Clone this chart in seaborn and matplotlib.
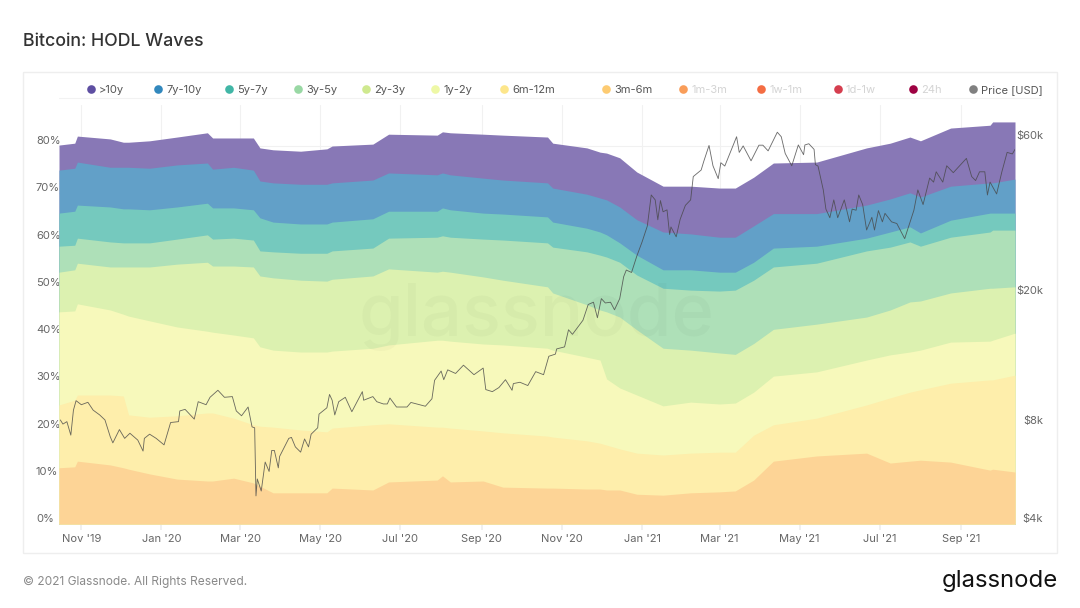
import pandas as pd
import matplotlib
matplotlib.use('Agg')
import matplotlib.pyplot as plt
import matplotlib.dates as mdates
from matplotlib.lines import Line2D
from matplotlib.patches import Rectangle
import seaborn as sns

START = pd.Timestamp('2019-10-15')
END_DAY = 728

# days after START at which the wave boundaries were read
band_days = [0, 12, 14, 39, 49, 53, 69, 90, 113, 117, 133, 148, 153, 163, 184, 204, 208, 239, 251, 288, 292, 298, 323,
             338, 372, 376, 402, 412, 417, 427, 440, 460, 481, 503, 515, 529, 544, 577, 615, 633, 648, 656, 679, 709, 711, 728]

# upper edge of each stacked wave, in percent of supply
top_over10y = [80.2, 80.6, 82.1, 81.5, 80.8, 80.8, 81.1, 81.9, 82.8, 81.7, 81.7, 81.7, 79.6, 79.2, 78.9, 79.4, 80.0, 80.4, 82.5, 82.3, 83.0, 82.8, 82.5,
               82.3, 81.9, 80.6, 79.6, 78.7, 78.5, 77.5, 74.5, 71.5, 71.5, 71.1, 71.1, 73.4, 76.4, 76.6, 79.6, 80.6, 81.9, 81.1, 83.8, 84.4, 85.1, 85.1]
top_7y10y = [74.9, 75.3, 76.6, 75.5, 75.5, 75.5, 75.3, 76.0, 76.4, 75.1, 75.5, 74.9, 72.6, 72.2, 71.9, 71.9, 72.2, 72.8, 74.3, 73.9, 74.3, 73.9, 73.2,
             72.8, 72.2, 71.1, 69.8, 69.0, 68.6, 67.1, 64.4, 61.8, 61.4, 60.7, 60.7, 63.1, 65.7, 65.7, 67.5, 68.8, 70.1, 69.2, 71.5, 72.2, 72.2, 73.0]
top_5y7y = [65.8, 66.2, 67.5, 67.1, 66.7, 66.7, 66.5, 67.1, 67.9, 66.9, 66.9, 66.5, 64.8, 63.9, 63.5, 63.5, 63.9, 64.6, 66.2, 66.2, 66.9, 66.5, 65.8,
            65.6, 65.0, 63.9, 62.6, 61.8, 61.2, 59.5, 56.9, 53.8, 53.8, 53.3, 53.3, 55.4, 58.4, 58.8, 60.5, 61.8, 62.9, 61.6, 64.3, 65.8, 65.8, 65.8]
top_3y5y = [58.8, 59.0, 60.5, 59.7, 59.5, 59.5, 59.5, 60.3, 61.2, 60.3, 60.5, 60.1, 57.8, 57.6, 57.3, 57.3, 57.8, 58.4, 60.5, 60.7, 61.0, 60.7, 60.3,
            60.1, 59.5, 58.6, 57.6, 56.9, 56.5, 55.4, 52.7, 49.9, 49.5, 49.3, 49.5, 51.6, 54.4, 55.2, 57.8, 58.6, 59.7, 58.8, 60.7, 61.8, 62.2, 62.2]
top_2y3y = [53.3, 53.8, 55.2, 54.4, 54.4, 54.4, 54.4, 55.0, 55.4, 54.6, 54.6, 54.4, 52.5, 52.1, 51.6, 51.4, 51.8, 52.5, 54.0, 53.3, 53.5, 53.3, 52.3,
            51.6, 50.2, 48.9, 46.4, 45.3, 44.9, 43.8, 41.1, 37.2, 36.8, 36.2, 35.9, 38.2, 41.2, 42.3, 43.8, 45.3, 47.0, 47.2, 48.9, 49.9, 49.9, 50.2]
top_1y2y = [44.9, 45.1, 46.6, 45.3, 44.4, 44.0, 43.0, 41.7, 40.8, 40.6, 40.0, 39.4, 37.5, 36.8, 36.4, 36.4, 36.6, 37.2, 37.9, 38.9, 38.9, 38.7, 38.1,
            37.9, 37.2, 36.8, 35.3, 34.7, 30.7, 28.8, 27.3, 25.0, 25.8, 25.4, 25.6, 27.9, 31.3, 32.2, 34.7, 35.8, 36.4, 36.8, 38.5, 38.7, 38.9, 40.4]
top_6m12m = [25.2, 26.2, 27.3, 27.3, 27.1, 23.1, 22.6, 22.9, 23.5, 23.5, 22.4, 21.0, 20.7, 20.5, 19.9, 19.5, 20.3, 21.0, 21.2, 20.5, 20.5, 20.3, 19.7,
             19.3, 18.6, 18.4, 17.6, 17.1, 16.7, 15.9, 15.0, 14.6, 15.0, 15.2, 15.2, 18.8, 21.0, 22.4, 25.2, 26.7, 27.9, 28.4, 29.8, 30.5, 30.5, 31.5]
top_3m6m = [11.9, 12.1, 13.3, 12.5, 11.9, 11.6, 10.6, 9.5, 9.1, 9.1, 9.7, 8.7, 8.0, 6.6, 6.6, 6.6, 7.6, 7.2, 8.9, 9.3, 10.2, 8.9, 9.1,
            7.8, 7.6, 7.6, 7.4, 7.4, 7.2, 7.2, 6.3, 6.1, 6.6, 6.8, 7.0, 9.3, 13.3, 14.4, 15.0, 12.9, 13.3, 13.5, 13.1, 11.4, 11.6, 11.0]

price_days = [1, 3, 6, 9, 11, 13, 17, 22, 26, 31, 35, 39, 41, 46, 50, 54, 60, 64, 65, 69, 74, 80, 85, 91, 92, 96, 103, 106, 112, 115,
              121, 126, 132, 135, 139, 144, 147, 149, 150, 151, 154, 157, 160, 162, 164, 167, 168, 175, 177, 180, 184, 187, 190, 192,
              197, 198, 204, 206, 208, 210, 213, 218, 223, 227, 231, 232, 239, 242, 247, 250, 252, 257, 265, 268, 279, 284, 286, 291,
              293, 296, 302, 308, 316, 323, 325, 330, 335, 340, 345, 346, 351, 357, 363, 369, 373, 378, 379, 385, 388, 391, 397, 399,
              403, 407, 410, 413, 416, 420, 423, 427, 430, 432, 436, 440, 444, 448, 451, 454, 456, 458, 460, 463, 465, 466, 470, 473,
              477, 481, 483, 489, 491, 495, 498, 502, 504, 507, 516, 518, 521, 527, 533, 536, 540, 547, 550, 553, 558, 563, 567, 568,
              571, 575, 576, 578, 582, 584, 587, 590, 593, 598, 602, 604, 607, 609, 612, 615, 619, 621, 624, 627, 629, 634, 638, 644,
              651, 654, 658, 663, 666, 668, 673, 676, 681, 691, 695, 698, 701, 705, 707, 709, 714, 718, 722, 726, 728]
price_k = [8.35, 8.11, 8.25, 7.5, 8.95, 9.57, 9.3, 9.46, 8.95, 8.65, 8.35, 7.42, 7.1, 7.8, 7.33, 7.6, 7.24, 6.7, 7.33, 7.55, 7.33, 7.0, 8.2, 8.25, 8.9, 9.0, 8.4, 9.5, 9.3, 9.8,
           10.3, 9.8, 9.85, 8.9, 8.6, 9.15, 7.95, 7.9, 4.88, 5.5, 5.05, 6.2, 5.8, 6.73, 6.73, 5.95, 6.45, 7.33, 7.38, 6.9, 6.65, 7.3, 6.9, 7.55,
           7.9, 8.7, 9.1, 10.0, 9.6, 8.65, 9.5, 9.8, 8.85, 9.5, 10.2, 9.6, 9.85, 9.5, 9.35, 9.35, 9.75, 9.15, 9.15, 9.45, 9.2, 9.7, 11.05, 11.8,
           11.1, 11.9, 11.6, 12.3, 11.5, 12.05, 10.35, 10.2, 10.5, 11.1, 10.3, 10.8, 10.9, 10.65, 11.75, 11.5, 13.1, 13.3, 13.8, 14.0, 15.8, 15.3, 16.5, 16.9,
           18.9, 19.2, 17.2, 19.7, 19.1, 19.2, 18.2, 19.7, 23.0, 24.1, 23.7, 26.6, 29.4, 32.9, 41.0, 39.6, 34.4, 39.4, 36.4, 36.9, 31.0, 32.7, 30.5, 34.5,
           38.1, 39.6, 46.7, 48.9, 52.0, 58.2, 50.4, 46.0, 51.5, 50.3, 61.9, 55.4, 58.0, 52.2, 58.3, 58.3, 56.0, 63.9, 61.9, 55.0, 50.4, 58.4, 54.5, 58.4,
           58.9, 56.6, 50.8, 50.3, 42.5, 37.1, 34.9, 39.6, 34.9, 39.6, 33.9, 37.1, 36.8, 41.0, 38.3, 32.0, 35.0, 32.0, 36.7, 33.9, 36.0, 33.9, 33.5, 30.1,
           36.8, 42.5, 38.3, 46.2, 44.9, 48.3, 44.9, 50.4, 48.0, 53.1, 46.7, 45.4, 48.3, 48.3, 41.0, 44.9, 41.3, 48.3, 55.4, 54.8, 56.6]

pct_ticks = [0, 10, 20, 30, 40, 50, 60, 70, 80]
price_ticks = [4000, 8000, 20000, 60000]
price_tick_labels = ['$4k', '$8k', '$20k', '$60k']

legend_names = ['>10y', '7y-10y', '5y-7y', '3y-5y', '2y-3y', '1y-2y', '6m-12m', '3m-6m', '1m-3m', '1w-1m', '1d-1w', '24h', 'Price [USD]']
legend_colors = ['#5e4fa2', '#3288bd', '#41b6a6', '#99d8a4', '#cfe98f', '#eef8a6', '#fde68b', '#fdcb72', '#f99d59', '#f46d43', '#d53e4f', '#9e0142', '#808080']
legend_dot_x = [91, 158, 229, 298, 366, 435, 504, 606, 683, 761, 838, 913, 973]
legend_muted = ['1m-3m', '1w-1m', '1d-1w', '24h']
band_colors = ['#8878b6', '#62a0c8', '#75c9be', '#aee0b8', '#dcf1b0', '#f7f9bb', '#feeeab', '#fdd496']

W, H = 1080, 608


def fx(px):
    return px / W


def fy(px):
    return 1 - px / H


sns.set_theme(style='white')
plt.rcParams['font.family'] = ['Inter', 'DejaVu Sans']

fig = plt.figure(figsize=(W / 100, H / 100), dpi=100, facecolor='white')
ax = fig.add_axes([fx(59), fy(524), fx(1015 - 59), (524 - 105) / H])

# card and legend rule sit behind the plot
fig.add_artist(Rectangle((fx(23), fy(553)), fx(1034), 481 / H, transform=fig.transFigure,
                         facecolor='white', edgecolor='#eeeeee', lw=1, zorder=-5))
fig.add_artist(Line2D([fx(59), fx(1040)], [fy(98), fy(98)], color='#f2f2f2', lw=0.8, zorder=-4))

dates = START + pd.to_timedelta(band_days, unit='D')
tops = [top_over10y, top_7y10y, top_5y7y, top_3y5y, top_2y3y, top_1y2y, top_6m12m, top_3m6m]
for top, col in zip(tops, band_colors):
    ax.fill_between(dates, 0, top, color=col, lw=0, zorder=2)

ax.set_xlim(START, START + pd.Timedelta(days=END_DAY))
ax.set_ylim(0, 88.68)
ax.set_yticks(pct_ticks)
ax.set_yticklabels([f'{t}%' for t in pct_ticks])
ax.grid(True, color='#f1f1f1', lw=0.8, zorder=0)
ax.set_axisbelow(True)
ax.xaxis.set_major_locator(mdates.MonthLocator(bymonth=[1, 3, 5, 7, 9, 11]))
ax.xaxis.set_major_formatter(mdates.DateFormatter("%b '%y"))
ax.tick_params(axis='x', length=4, color='#eeeeee', labelsize=8, labelcolor='#666666', pad=3, bottom=True)
ax.tick_params(axis='y', length=0, labelsize=8, labelcolor='#666666', pad=16.6)
for lab in ax.get_yticklabels():
    lab.set_ha('left')
    lab.set_va('bottom')
sns.despine(ax=ax, left=True, bottom=True, right=True, top=True)

ax.text(0.5, 0.495, 'glassnode', transform=ax.transAxes, ha='center', va='center', fontsize=52,
        fontweight='medium', color='#000000', alpha=0.022, zorder=3)

# price on its own log axis
ax2 = ax.twinx()
price_df = pd.DataFrame({'date': START + pd.to_timedelta(price_days, unit='D'), 'price': [p * 1000 for p in price_k]})
sns.lineplot(data=price_df, x='date', y='price', ax=ax2, estimator=None, sort=False, color='#474747', lw=0.62, alpha=0.8)
ax2.set_yscale('log')
ax2.set_ylim(4000, 4000 * 2 ** (419 / 98))
ax2.set_yticks(price_ticks)
ax2.set_yticklabels(price_tick_labels)
ax2.minorticks_off()
ax2.set_xlabel('')
ax2.set_ylabel('')
ax2.grid(False)
ax2.tick_params(axis='y', length=0, labelsize=8, labelcolor='#666666', pad=20.2)
for lab in ax2.get_yticklabels():
    lab.set_ha('right')
    lab.set_va('bottom')
sns.despine(ax=ax2, left=True, bottom=True, right=True, top=True)

# legend laid out by hand like the site does
for name, col, x in zip(legend_names, legend_colors, legend_dot_x):
    fig.add_artist(Line2D([fx(x)], [fy(89)], marker='o', ms=6.2, color=col, mew=0, ls=''))
    fig.text(fx(x + 8), fy(90), name, ha='left', va='center', fontsize=8,
             color='#d4d4d4' if name in legend_muted else '#555555')

fig.text(fx(23), fy(41), 'Bitcoin: HODL Waves', ha='left', va='center', fontsize=12.8, fontweight='medium', color='#333333')
fig.text(fx(23), fy(582), '© 2021 Glassnode. All Rights Reserved.', ha='left', va='center', fontsize=8.6, color='#8a8a8a')
fig.text(fx(1058), fy(581), 'glassnode', ha='right', va='center', fontsize=17.2, fontweight='normal', color='#111111')

fig.savefig('out.png', dpi=100)
